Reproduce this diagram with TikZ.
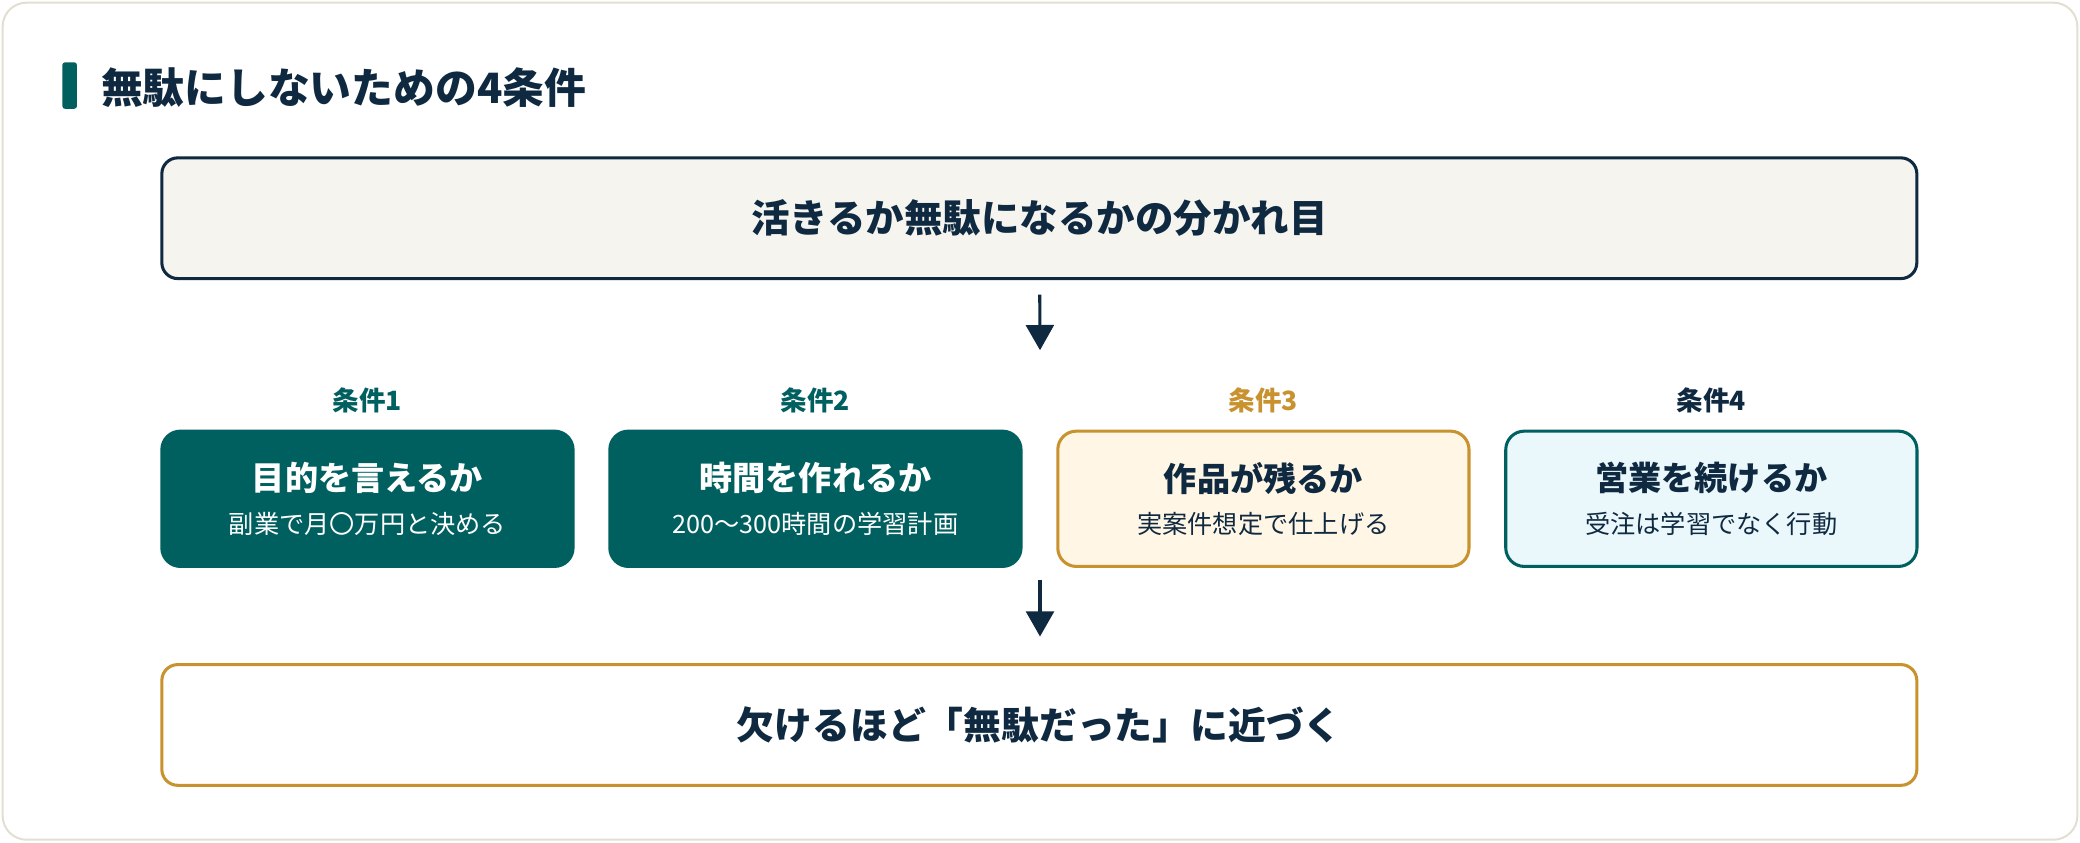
\documentclass[tikz,border=0pt]{standalone}
\usepackage{fontspec}
\setmainfont{Noto Sans CJK JP}
\usetikzlibrary{arrows.meta, positioning}
\definecolor{navy}{RGB}{15, 41, 64}
\definecolor{darkteal}{RGB}{0, 95, 95}
\definecolor{gold}{RGB}{200, 146, 47}
\definecolor{cream}{RGB}{245, 244, 239}
\definecolor{paleorange}{RGB}{255, 246, 229}
\definecolor{paleblue}{RGB}{234, 248, 252}
\definecolor{cardline}{RGB}{226, 223, 210}
\newcommand{\subline}[1]{{\fontsize{19}{23}\selectfont\mdseries #1}}

\begin{document}
\begin{tikzpicture}[
                x = 1pt, y = -1pt, % one unit per pixel, top down
                > = {Triangle[width=21pt, length=19pt]}, % arrow head style
                line width = 2.3pt, % line style
                font = \bfseries,
                text = navy
                ]
                \tikzstyle{wide box}=[
                    draw = navy,
                    fill = cream,
                    rounded corners = 12pt,
                    minimum width = 1323pt,
                    minimum height = 91pt,
                    font = \fontsize{29}{34}\selectfont\bfseries,
                ]
                \tikzstyle{cond box}=[
                    rounded corners = 14pt,
                    minimum width = 310pt,
                    minimum height = 102pt,
                    align = center,
                    font = \fontsize{25}{30}\selectfont\bfseries,
                ]
                \tikzstyle{cond label}=[
                    inner sep = 0pt,
                    font = \fontsize{20}{23}\selectfont\bfseries,
                ]
                \useasboundingbox (0,0) rectangle (1568,635);
                \fill[white] (0,0) rectangle (1568,635);
                \draw[draw=cardline, fill=white, line width=1.5pt, rounded corners=18pt]
                    (2,2) rectangle (1566,633);

                \node[fill=darkteal, inner sep=0pt, minimum width=11pt,
                    minimum height=35pt, rounded corners=2pt] (bar) at (52.5,64.5) {};
                \node[anchor=west, inner sep=0pt,
                    font=\fontsize{31.5}{36}\selectfont\bfseries] (title) at (75,66)
                    {無駄にしないための4条件};

                \node[wide box] (top) at (783.5,164.5) {活きるか無駄になるかの分かれ目};

                \node[cond box, fill=darkteal, draw=darkteal, text=white] (c1) at (277,376)
                    {目的を言えるか\\[2pt]\subline{副業で月〇万円と決める}};
                \node[cond box, fill=darkteal, draw=darkteal, text=white] (c2) [right=25.4pt of c1]
                    {時間を作れるか\\[2pt]\subline{200〜300時間の学習計画}};
                \node[cond box, fill=paleorange, draw=gold] (c3) [right=25.4pt of c2]
                    {作品が残るか\\[2pt]\subline{実案件想定で仕上げる}};
                \node[cond box, fill=paleblue, draw=darkteal] (c4) [right=25.4pt of c3]
                    {営業を続けるか\\[2pt]\subline{受注は学習でなく行動}};

                \node[cond label, text=darkteal] (l1) [above=11pt of c1] {条件1};
                \node[cond label, text=darkteal] (l2) [above=11pt of c2] {条件2};
                \node[cond label, text=gold] (l3) [above=11pt of c3] {条件3};
                \node[cond label] (l4) [above=11pt of c4] {条件4};

                \node[wide box, draw=gold, fill=white,
                    font=\fontsize{28.5}{34}\selectfont\bfseries] (bottom) at (783.5,546.5)
                    {欠けるほど「無駄だった」に近づく};

                \coordinate (a1) at (784,264);
                \coordinate (a2) at (784,437);
                \draw[->, navy, shorten <=11pt] (top) -- (a1);
                \draw[->, navy, shorten >=20pt] (a2) -- (a2 |- bottom.north);
            \end{tikzpicture}
\end{document}
